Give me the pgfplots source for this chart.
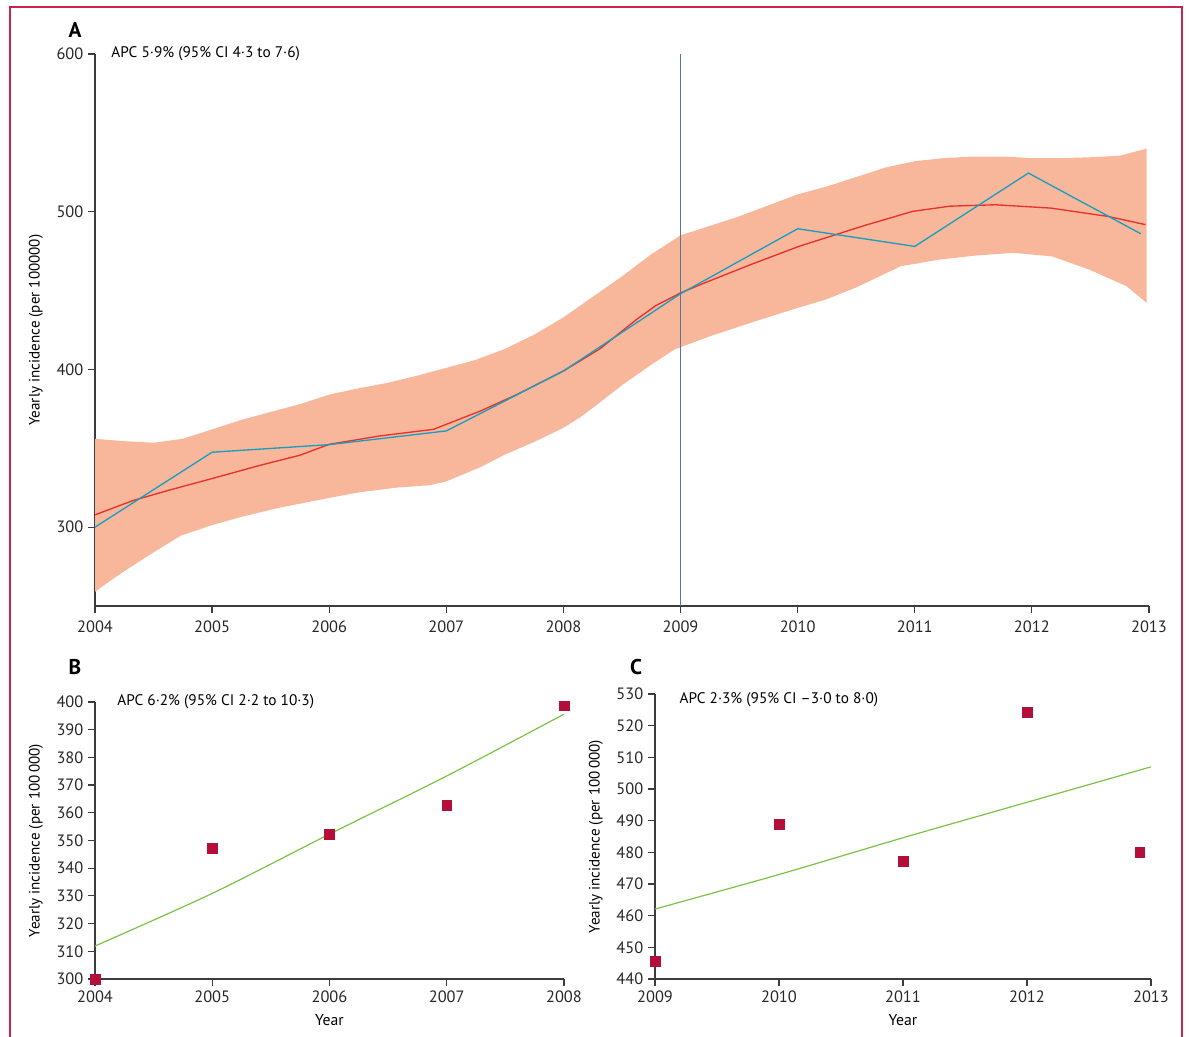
\documentclass[border=0pt]{standalone}
\usepackage{pgfplots}
\pgfplotsset{compat=1.18}
\usepackage{fontspec}
\setmainfont{PT Sans}
\definecolor{axiscol}{HTML}{3C3C3C}
\definecolor{bandcol}{HTML}{F8B79B}
\definecolor{redcol}{HTML}{E8312A}
\definecolor{bluecol}{HTML}{1A9EC0}
\definecolor{greencol}{HTML}{7CC243}
\definecolor{sqcol}{HTML}{B40F3B}
\definecolor{framecol}{HTML}{C8234C}
\definecolor{vlinecol}{HTML}{587889}
\pgfplotsset{
  myaxis/.style={
    scale only axis,
    axis lines=left,
    axis line style={-, draw=axiscol, line width=0.9pt},
    tick style={draw=axiscol, line width=0.9pt},
    tick align=outside,
    major tick length=5.25pt,
    minor tick num=0,
    tick label style={font=\fontsize{12.3}{14}\selectfont, text=black!85},
    /pgf/number format/assume math mode=true,
    /pgf/number format/1000 sep={},
    every axis y label/.style={at={(rel axis cs:0,0.5)}, xshift=-44.25pt, rotate=90, anchor=center, font=\fontsize{11.3}{13}\selectfont},
    every axis x label/.style={at={(rel axis cs:0.5,0)}, yshift=-30.75pt, anchor=center, font=\fontsize{11.8}{13}\selectfont},
    clip=false,
  }
}
\begin{document}
\begin{tikzpicture}
\useasboundingbox (0,0) rectangle (891.75pt,777.75pt);
\draw[framecol, line width=1.1pt] (7.5pt,0) -- (7.5pt,772.5pt) -- (886.5pt,772.5pt) -- (886.5pt,0);
% Panel A
\begin{axis}[myaxis, at={(71.25pt,323.25pt)}, anchor=south west,
  width=790.5pt, height=414pt,
  xmin=2004, xmax=2013, ymin=250, ymax=600,
  xtick={2004,2005,...,2013}, ytick={300,400,500,600},
  xticklabel style={yshift=-2.5pt},
  ylabel={Yearly incidence (per 100000)}]
\addplot[fill=bandcol, draw=none] coordinates {
(2004.00,356) (2004.25,354.5) (2004.50,353.5) (2004.75,356) (2005.00,362)
(2005.25,368) (2005.50,373) (2005.75,378) (2006.00,384) (2006.25,388)
(2006.50,391.5) (2006.75,396) (2007.00,401) (2007.25,406) (2007.50,413)
(2007.75,422) (2008.00,433) (2008.25,446) (2008.50,459) (2008.75,473)
(2009.00,485) (2009.25,491) (2009.50,497) (2009.75,504) (2010.00,511)
(2010.25,516) (2010.50,522) (2010.75,528) (2011.00,532) (2011.25,534)
(2011.50,535) (2011.75,535) (2012.00,534) (2012.25,534) (2012.50,534.5)
(2012.75,535.5) (2012.98,540)
(2012.98,442.2) (2012.81,452.7) (2012.49,463.3) (2012.17,471.7) (2011.84,473.9)
(2011.52,472.2) (2011.20,469.5) (2010.88,465.4) (2010.50,452) (2010.24,444.3)
(2010.00,439) (2009.60,429.6) (2009.25,421) (2008.95,412.7) (2008.75,403)
(2008.50,390) (2008.31,379) (2008.15,370) (2008.00,363) (2007.75,354)
(2007.50,346) (2007.29,338) (2007.00,329) (2006.86,326.6) (2006.58,325.1)
(2006.25,322) (2006.00,318.5) (2005.58,312.4) (2005.25,306.5) (2005.00,301.3)
(2004.73,294.5) (2004.50,284) (2004.30,274.5) (2004.15,267) (2004.00,259)
} -- cycle;
\addplot[redcol, line width=1pt] coordinates {
(2004.00,307.8) (2004.33,317) (2004.66,324) (2005.00,330.8) (2005.40,339)
(2005.75,345.6) (2006.00,352.5) (2006.43,357.8) (2006.89,362) (2007.29,373.6)
(2007.60,384) (2008.00,399) (2008.31,413) (2008.47,422.5) (2008.63,432)
(2008.79,440.5) (2009.00,448.5) (2009.21,455) (2009.60,466.5) (2010.01,478)
(2010.56,491) (2010.98,500.2) (2011.30,503.5) (2011.69,504.4) (2012.16,502.3)
(2012.65,497) (2012.97,491.8)};
\addplot[bluecol, line width=1pt] coordinates {
(2004,300) (2005,347.5) (2006,352.3) (2007,361) (2008,399) (2009,448)
(2010,489.2) (2011,478) (2011.97,524.5) (2012.93,486)};
\addplot[vlinecol, line width=0.9pt] coordinates {(2009,250) (2009,600)};
\node[anchor=west, font=\fontsize{11.5}{13}\selectfont] at (axis cs:2004.1,600) {APC 5·9\% (95\% CI 4·3 to 7·6)};
\end{axis}
% Panel B
\begin{axis}[myaxis, at={(71.25pt,43.5pt)}, anchor=south west,
  width=351.75pt, height=207.75pt,
  xmin=2004, xmax=2008, ymin=300, ymax=400,
  xtick={2004,2005,...,2008}, ytick={300,310,...,400},
  ylabel={Yearly incidence (per 100\,000)}, xlabel={Year}]
\addplot[greencol, line width=0.9pt, smooth] coordinates {
(2004,311.9) (2005,330.9) (2006,352.3) (2007,373.3) (2008,395.6)};
\addplot[only marks, mark=square*, mark size=3.6pt, color=sqcol] coordinates {
(2004,300) (2005,347.3) (2006,352.3) (2007,362.8) (2008,398.6)};
\node[anchor=west, font=\fontsize{11.5}{13}\selectfont] at (axis cs:2004.15,400) {APC 6·2\% (95\% CI 2·2 to 10·3)};
\end{axis}
% Panel C
\begin{axis}[myaxis, at={(491.25pt,43.5pt)}, anchor=south west,
  width=372pt, height=213.75pt,
  xmin=2009, xmax=2013, ymin=440, ymax=530,
  xtick={2009,2010,...,2013}, ytick={440,450,...,530},
  ylabel={Yearly incidence (per 100\,000)}, xlabel={Year}]
\addplot[greencol, line width=0.9pt, smooth] coordinates {
(2009,462.1) (2010,473) (2011,484.6) (2012,495.8) (2013,507)};
\addplot[only marks, mark=square*, mark size=3.6pt, color=sqcol] coordinates {
(2009,445.6) (2010,488.9) (2011,477.2) (2012,524.3) (2012.91,480)};
\node[anchor=west, font=\fontsize{11.5}{13}\selectfont] at (axis cs:2009.16,528.3) {APC 2·3\% (95\% CI –3·0 to 8·0)};
\end{axis}
\node[font=\bfseries\fontsize{16}{18}\selectfont] at (56.25pt,755.25pt) {A};
\node[font=\bfseries\fontsize{16}{18}\selectfont] at (56.25pt,277.5pt) {B};
\node[font=\bfseries\fontsize{16}{18}\selectfont] at (477pt,277.5pt) {C};
\end{tikzpicture}
\end{document}
